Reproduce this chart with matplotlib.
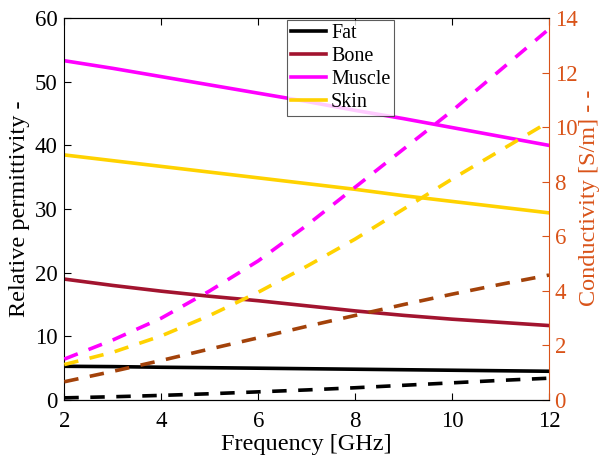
import numpy as np
import matplotlib
matplotlib.use('Agg')
import matplotlib.pyplot as plt

plt.rcParams['font.family'] = ['Liberation Serif', 'DejaVu Serif']
plt.rcParams['mathtext.fontset'] = 'stix'

# frequency points [GHz]
freq = [2, 3, 4, 5, 6, 7, 8, 9, 10, 11, 12]

# relative permittivity (solid)
eps_fat = [5.3, 5.25, 5.15, 5.08, 5.0, 4.92, 4.84, 4.76, 4.68, 4.6, 4.52]
eps_bone = [19.0, 18.0, 17.1, 16.3, 15.6, 14.8, 14.0, 13.3, 12.7, 12.2, 11.7]
eps_muscle = [53.3, 52.1, 50.8, 49.5, 48.2, 46.9, 45.5, 44.2, 42.8, 41.4, 40.0]
eps_skin = [38.5, 37.6, 36.7, 35.8, 34.9, 34.0, 33.1, 32.1, 31.2, 30.3, 29.4]

# conductivity [S/m] (dashed)
sig_fat = [0.08, 0.12, 0.17, 0.23, 0.3, 0.37, 0.45, 0.54, 0.63, 0.72, 0.8]
sig_bone = [0.67, 1.05, 1.45, 1.87, 2.28, 2.7, 3.1, 3.5, 3.88, 4.24, 4.58]
sig_muscle = [1.5, 2.2, 3.0, 4.0, 5.1, 6.4, 7.8, 9.2, 10.6, 12.1, 13.6]
sig_skin = [1.3, 1.75, 2.35, 3.1, 3.95, 4.9, 5.9, 7.0, 8.1, 9.15, 10.2]

names = ['Fat', 'Bone', 'Muscle', 'Skin']
c_solid = ['black', '#A2142F', '#FF00FF', '#FFD200']
c_dash = ['black', '#A3420A', '#FF00FF', '#FFD200']
orange = '#D95319'

fig = plt.figure(figsize=(6.01, 4.63), dpi=100)
ax = fig.add_axes([0.107, 0.136, 0.8065, 0.825])
ax2 = ax.twinx()

eps_all = [eps_fat, eps_bone, eps_muscle, eps_skin]
sig_all = [sig_fat, sig_bone, sig_muscle, sig_skin]

handles = []
for i in range(4):
    h, = ax.plot(freq, eps_all[i], '-', color=c_solid[i], lw=2.6, label=names[i])
    handles.append(h)
    ax2.plot(freq, sig_all[i], '--', color=c_dash[i], lw=2.6, dashes=(4.0, 3.2))

ax.set_xlim(2, 12)
ax.set_ylim(0, 60)
ax2.set_ylim(0, 14)
ax.set_xticks([2, 4, 6, 8, 10, 12])
ax.set_yticks([0, 10, 20, 30, 40, 50, 60])
ax2.set_yticks([0, 2, 4, 6, 8, 10, 12, 14])

ax.tick_params(axis='both', direction='in', labelsize=16.5, length=5, width=0.8, top=True)
ax.tick_params(axis='x', pad=8)
ax.tick_params(axis='y', pad=5)
ax2.tick_params(axis='y', direction='in', labelsize=16.5, length=5, width=0.8,
                colors=orange, pad=4)
ax2.spines['right'].set_color(orange)
ax2.spines['left'].set_visible(False)
for s in ['top', 'left', 'bottom']:
    ax.spines[s].set_linewidth(0.8)
ax2.spines['right'].set_linewidth(0.8)
ax.spines['right'].set_visible(False)

ax.set_xlabel('Frequency [GHz]', fontsize=17.5, labelpad=1)
ax.set_ylabel('Relative permittivity -', fontsize=17.5, labelpad=3)
ax2.set_ylabel('Conductivity [S/m] - -', fontsize=17.5, color=orange)
ax2.yaxis.set_label_coords(1.062, 0.53)

leg = ax2.legend(handles=handles, loc='upper left', bbox_to_anchor=(0.459, 0.995),
                 fontsize=14.5, frameon=True, fancybox=False, edgecolor='#333333',
                 handlelength=1.75, handletextpad=0.25, borderpad=0.2,
                 labelspacing=0.2, borderaxespad=0.0)
leg.get_frame().set_linewidth(0.8)

fig.savefig('out.png', dpi=100)
